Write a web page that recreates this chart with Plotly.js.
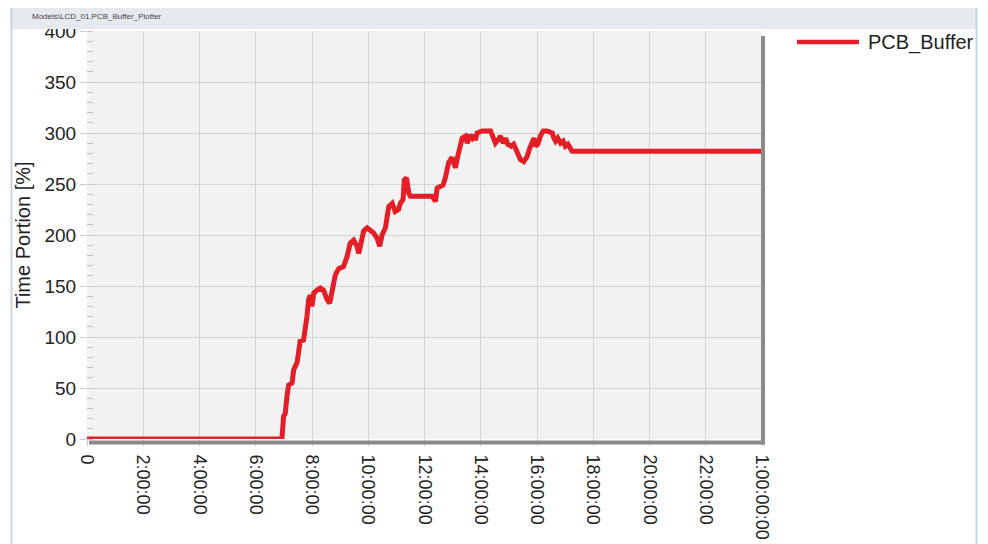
<!DOCTYPE html>
<html><head><meta charset="utf-8">
<script src="https://cdn.plot.ly/plotly-3.0.1.min.js"></script>
<style>html,body{margin:0;padding:0;background:#fff}#chart{width:988px;height:544px}</style>
</head><body><div id="chart"></div>
<script>
const hours = [0, 6.93, 6.99, 7.05, 7.11, 7.17, 7.29, 7.35, 7.47, 7.52, 7.58, 7.70, 7.76, 7.82, 7.88, 7.94, 8.00, 8.06, 8.18, 8.30, 8.41, 8.47, 8.53, 8.63, 8.71, 8.77, 8.83, 8.95, 9.12, 9.25, 9.36, 9.48, 9.60, 9.66, 9.72, 9.84, 9.96, 10.07, 10.19, 10.31, 10.41, 10.49, 10.61, 10.73, 10.85, 10.96, 11.08, 11.14, 11.24, 11.28, 11.36, 11.44, 11.50, 12.27, 12.39, 12.45, 12.57, 12.66, 12.74, 12.86, 12.98, 13.04, 13.10, 13.18, 13.28, 13.34, 13.46, 13.52, 13.61, 13.69, 13.75, 13.81, 13.87, 14.05, 14.35, 14.41, 14.52, 14.61, 14.70, 14.80, 14.88, 14.96, 15.08, 15.17, 15.30, 15.41, 15.53, 15.65, 15.74, 15.83, 15.89, 15.95, 16.03, 16.12, 16.22, 16.36, 16.54, 16.60, 16.66, 16.74, 16.84, 16.93, 17.01, 17.10, 17.19, 17.25, 24];
const values = [0, 0, 22, 25, 42, 53, 55, 68, 75, 84, 96, 97, 107, 120, 137, 141, 130, 143, 146, 148, 146, 141, 137, 133, 143, 153, 161, 167, 169, 179, 192, 195, 189, 182, 189, 204, 207, 205, 202, 197, 189, 200, 207, 228, 231, 223, 225, 231, 235, 254, 256, 241, 238, 238, 233, 246, 248, 249, 256, 271, 276, 272, 266, 277, 290, 295, 297, 290, 298, 295, 298, 293, 300, 302, 302, 298, 290, 293, 297, 290, 295, 289, 287, 289, 280, 274, 272, 277, 285, 290, 295, 287, 289, 297, 302, 302, 300, 295, 292, 295, 290, 292, 287, 289, 284, 282, 282];
const tickHours = [0, 2, 4, 6, 8, 10, 12, 14, 16, 18, 20, 22, 24];
const tickLabels = ["0", "2:00:00", "4:00:00", "6:00:00", "8:00:00", "10:00:00", "12:00:00", "14:00:00", "16:00:00", "18:00:00", "20:00:00", "22:00:00", "1:00:00:00"];
const yTicks = [0, 50, 100, 150, 200, 250, 300, 350, 400];
const seriesName = "PCB_Buffer";
const yTitle = "Time Portion [%]";
const windowTitle = "Models\\LCD_01.PCB_Buffer_Plotter";

const L = 87, T = 31, W = 675, H = 408;
const px = x => (x - L) / W;
const py = y => (T + H - y) / H;
const red = '#e41e26';
const font = 'Liberation Sans, Arial, sans-serif';

const trace = {
  x: hours, y: values, type: 'scatter', mode: 'lines', name: seriesName,
  line: {color: red, width: 5}, cliponaxis: false, showlegend: false
};

const layout = {
  width: 988, height: 544,
  margin: {l: L, r: 988 - L - W, t: T, b: 544 - T - H},
  paper_bgcolor: '#ffffff', plot_bgcolor: '#f2f2f2',
  font: {family: font, color: '#222'},
  showlegend: false,
  xaxis: {
    range: [0, 24], tickmode: 'array', tickvals: tickHours, ticktext: tickLabels,
    tickangle: 90, tickfont: {size: 18, color: '#222'}, ticklabelstandoff: 5,
    showgrid: true, gridcolor: '#d3d3d3', gridwidth: 1,
    ticks: 'outside', ticklen: 6, tickcolor: '#c8c8c8',
    zeroline: false, showline: false, fixedrange: true
  },
  yaxis: {
    range: [0, 400], tickmode: 'array', tickvals: yTicks,
    tickfont: {size: 19, color: '#222'},
    showgrid: true, gridcolor: '#d3d3d3', gridwidth: 1,
    ticks: 'outside', ticklen: 6, tickcolor: '#c8c8c8',
    minor: {dtick: 10, ticks: 'inside', ticklen: 6, tickcolor: '#c4c4c4', showgrid: false},
    zeroline: false, showline: false, fixedrange: true,
    title: {text: yTitle, font: {size: 20, color: '#222'}, standoff: 8}
  },
  shapes: [
    {type: 'rect', xref: 'paper', yref: 'paper', x0: px(10), x1: px(976), y0: py(29), y1: py(8),
     fillcolor: '#e6eaef', line: {width: 0}, layer: 'above'},
    {type: 'line', xref: 'paper', yref: 'paper', x0: px(11.5), x1: px(11.5), y0: py(544), y1: py(8),
     line: {color: '#c9d5e2', width: 2}, layer: 'above'},
    {type: 'line', xref: 'paper', yref: 'paper', x0: px(976.5), x1: px(976.5), y0: py(544), y1: py(8),
     line: {color: '#c9d5e2', width: 2}, layer: 'above'},
    {type: 'line', xref: 'paper', yref: 'paper', x0: px(89), x1: px(765), y0: py(442.5), y1: py(442.5),
     line: {color: '#8a8a8a', width: 4}, layer: 'above'},
    {type: 'line', xref: 'paper', yref: 'paper', x0: px(763), x1: px(763), y0: py(444.5), y1: py(36),
     line: {color: '#8a8a8a', width: 4}, layer: 'above'},
    {type: 'line', xref: 'paper', yref: 'paper', x0: px(797), x1: px(859), y0: py(42), y1: py(42),
     line: {color: red, width: 4.5}, layer: 'above'}
  ],
  annotations: [
    {xref: 'paper', yref: 'paper', x: px(866), y: py(42), xanchor: 'left', yanchor: 'middle',
     text: seriesName, showarrow: false, font: {size: 20, color: '#222'}},
    {xref: 'paper', yref: 'paper', x: px(30), y: py(17), xanchor: 'left', yanchor: 'middle',
     text: windowTitle, showarrow: false, font: {size: 8, color: '#444'}}
  ]
};

Plotly.newPlot('chart', [trace], layout, {displayModeBar: false, staticPlot: true});
</script></body></html>
